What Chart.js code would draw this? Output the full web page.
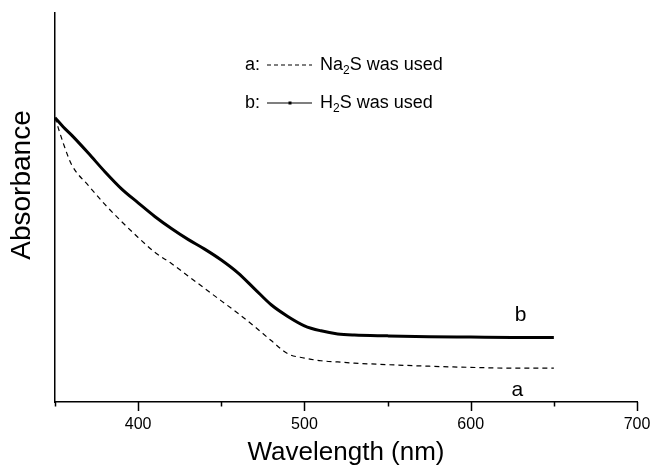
<!DOCTYPE html>
<html>
<head>
<meta charset="utf-8">
<title>Absorbance</title>
<script src="https://cdn.jsdelivr.net/npm/chart.js@4/dist/chart.umd.min.js"></script>
<style>
  html, body { margin: 0; padding: 0; background: #fff; }
  #wrap { width: 650px; height: 470px; position: relative; }
</style>
</head>
<body>
<div id="wrap"><canvas id="chart"></canvas></div>
<script>
"use strict";

const wavelength = [350, 355, 360, 370, 380, 390, 400, 410, 420, 430, 440, 450, 460, 470, 480, 490, 500, 510, 520, 530, 550, 575, 600, 625, 650];
// a: Na2S was used (dashed)
const absNa2S = [0.731, 0.665, 0.610, 0.557, 0.508, 0.464, 0.423, 0.385, 0.356, 0.324, 0.292, 0.260, 0.228, 0.194, 0.158, 0.124, 0.113, 0.106, 0.103, 0.100, 0.096, 0.092, 0.089, 0.087, 0.087];
// b: H2S was used (solid)
const absH2S = [0.731, 0.707, 0.686, 0.640, 0.592, 0.548, 0.512, 0.477, 0.446, 0.418, 0.393, 0.365, 0.332, 0.291, 0.250, 0.220, 0.196, 0.183, 0.175, 0.172, 0.170, 0.168, 0.167, 0.166, 0.166];
const xTicks = [400, 500, 600, 700];

const FONT = "'Liberation Sans', Arial, sans-serif";

function points(ys) {
  return wavelength.map((x, i) => ({ x: x, y: ys[i] }));
}

// short minor / long major tick marks below the x axis
const tickMarks = {
  id: 'tickMarks',
  afterDraw(chart) {
    const ctx = chart.ctx;
    const xs = chart.scales.x;
    ctx.save();
    ctx.strokeStyle = '#000';
    ctx.lineWidth = 1.5;
    xs.ticks.forEach(t => {
      const px = Math.round(xs.getPixelForValue(t.value)) + 0.5;
      const len = xTicks.includes(t.value) ? 9 : 4.5;
      ctx.beginPath();
      ctx.moveTo(px, xs.top);
      ctx.lineTo(px, xs.top + len);
      ctx.stroke();
    });
    ctx.restore();
  }
};

function subText(ctx, x, y, parts, size) {
  // parts: [text, sub, text]
  ctx.font = size + 'px ' + FONT;
  ctx.fillText(parts[0], x, y);
  x += ctx.measureText(parts[0]).width;
  ctx.font = Math.round(size * 0.65) + 'px ' + FONT;
  ctx.fillText(parts[1], x, y + 6);
  x += ctx.measureText(parts[1]).width;
  ctx.font = size + 'px ' + FONT;
  ctx.fillText(parts[2], x, y);
}

// legend in the plot, the a / b curve labels and the y title
const annotations = {
  id: 'annotations',
  afterDraw(chart) {
    const ctx = chart.ctx;
    const xs = chart.scales.x, ys = chart.scales.y;
    ctx.save();
    ctx.fillStyle = '#000';
    ctx.strokeStyle = '#000';
    ctx.textBaseline = 'middle';
    ctx.textAlign = 'left';

    const rows = [
      { key: 'a:', y: 65, dash: [4, 3], marker: false, label: ['Na', '2', 'S was used'] },
      { key: 'b:', y: 103, dash: [], marker: true, label: ['H', '2', 'S was used'] }
    ];
    rows.forEach(r => {
      ctx.font = '18px ' + FONT;
      ctx.fillText(r.key, 245, r.y);
      ctx.beginPath();
      ctx.setLineDash(r.dash);
      ctx.lineWidth = 1.2;
      ctx.moveTo(267, r.y);
      ctx.lineTo(312, r.y);
      ctx.stroke();
      ctx.setLineDash([]);
      if (r.marker) ctx.fillRect(288.5, r.y - 1.5, 3, 3);
      subText(ctx, 320, r.y, r.label, 18);
    });

    ctx.font = '21px ' + FONT;
    ctx.textAlign = 'center';
    ctx.fillText('b', xs.getPixelForValue(630), ys.getPixelForValue(0.223));
    ctx.fillText('a', xs.getPixelForValue(628), ys.getPixelForValue(0.031));

    ctx.translate(22, 185);
    ctx.rotate(-Math.PI / 2);
    ctx.font = '28px ' + FONT;
    ctx.fillText('Absorbance', 0, 0);
    ctx.restore();
  }
};

class AbsorbanceChart {

  #data() {
    return {
      datasets: [
        {
          label: 'a',
          data: points(absNa2S),
          borderColor: '#000',
          borderWidth: 1.2,
          borderDash: [5, 4],
          pointRadius: 0,
          cubicInterpolationMode: 'monotone'
        },
        {
          label: 'b',
          data: points(absH2S),
          borderColor: '#000',
          borderWidth: 3,
          pointRadius: 0,
          cubicInterpolationMode: 'monotone'
        }
      ]
    };
  }

  #options() {
    return {
      responsive: true,
      maintainAspectRatio: false,
      animation: false,
      layout: { padding: { left: 0, right: 13, top: 13, bottom: 0 } },
      plugins: {
        legend: { display: false },
        tooltip: { enabled: false }
      },
      scales: {
        x: {
          type: 'linear',
          min: 350,
          max: 700,
          afterFit(scale) {
            scale.height = 68;
            // let the 700 label hang into the right margin
            scale.paddingLeft = 0;
            scale.paddingRight = 0;
          },
          ticks: {
            stepSize: 50,
            autoSkip: false,
            maxRotation: 0,
            padding: 5,
            color: '#000',
            font: { family: FONT, size: 16 },
            callback: v => xTicks.includes(v) ? String(v) : ''
          },
          grid: { display: false, drawTicks: true, tickLength: 8 },
          border: { display: true, color: '#000', width: 1.5 },
          title: {
            display: true,
            text: 'Wavelength (nm)',
            color: '#000',
            font: { family: FONT, size: 26 },
            padding: { top: 0, bottom: 2 }
          }
        },
        y: {
          min: 0,
          max: 1,
          afterFit(scale) { scale.width = 55; },
          ticks: { display: false },
          grid: { display: false },
          border: { display: true, color: '#000', width: 1.5 }
        }
      }
    };
  }

  render(container) {
    return new Chart(document.getElementById(container), {
      type: 'line',
      data: this.#data(),
      options: this.#options(),
      plugins: [tickMarks, annotations]
    });
  }
}

new AbsorbanceChart().render('chart');
</script>
</body>
</html>
